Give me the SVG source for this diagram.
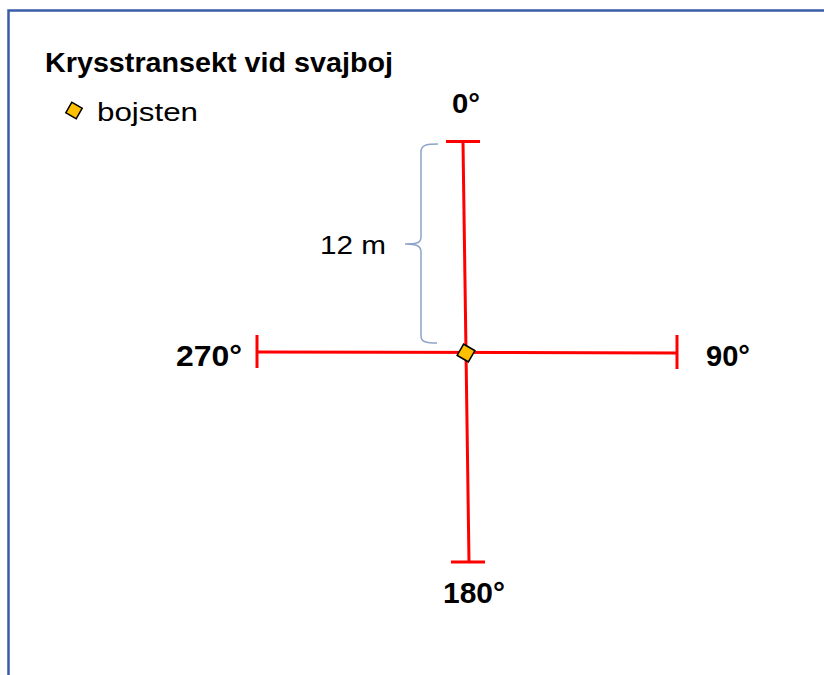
<svg xmlns="http://www.w3.org/2000/svg" width="824" height="675" viewBox="0 0 824 675">
<style>
.t{font-family:"Liberation Sans",Arial,sans-serif;fill:#000}
.b{font-weight:bold}
.red{stroke:#ff0000;stroke-width:3;fill:none}
.stone{fill:#ffc000;stroke:#000;stroke-width:1.5}
</style>
<rect x="0" y="0" width="824" height="675" fill="#fff"/>
<path d="M8.5,680 V10.5 H830" fill="none" stroke="#3a5ca8" stroke-width="2.5"/>
<g id="title"><text class="t b" x="45" y="72" font-size="27" textLength="348" lengthAdjust="spacingAndGlyphs">Krysstransekt vid svajboj</text></g>
<g id="legend">
<rect class="stone" x="-6" y="-6" width="12" height="12" transform="translate(74,110.5) rotate(30)"/>
<text class="t" x="97" y="121" font-size="26" textLength="101" lengthAdjust="spacingAndGlyphs">bojsten</text>
</g>
<g id="connectors">
<line class="red" x1="463" y1="142" x2="469" y2="562"/>
<line class="red" x1="446" y1="141.5" x2="480" y2="141.5"/>
<line class="red" x1="451" y1="562" x2="485" y2="562"/>
<line class="red" x1="257" y1="352" x2="677" y2="353"/>
<line class="red" x1="257" y1="335" x2="257" y2="368"/>
<line class="red" x1="677" y1="335" x2="677" y2="369"/>
<path d="M438,144 C426,144 421,145 421,152 V237 C421,243 417,244 405,244 C417,244 421,246 421,252 V336 C421,342 426,343 437,343" fill="none" stroke="#8ea4c8" stroke-width="1.5"/>
</g>
<g id="center"><rect class="stone" x="-6.5" y="-6.5" width="13" height="13" transform="translate(466,353) rotate(30)"/></g>
<g id="n0"><text class="t b" x="452" y="113" font-size="28" textLength="28" lengthAdjust="spacingAndGlyphs">0°</text></g>
<g id="n90"><text class="t b" x="706" y="366" font-size="29" textLength="44" lengthAdjust="spacingAndGlyphs">90°</text></g>
<g id="n180"><text class="t b" x="443" y="603" font-size="29" textLength="62" lengthAdjust="spacingAndGlyphs">180°</text></g>
<g id="n270"><text class="t b" x="176" y="366" font-size="29" textLength="66" lengthAdjust="spacingAndGlyphs">270°</text></g>
<g id="label12"><text class="t" x="320" y="254" font-size="26" fill="#222" textLength="66" lengthAdjust="spacingAndGlyphs">12 m</text></g>
</svg>
